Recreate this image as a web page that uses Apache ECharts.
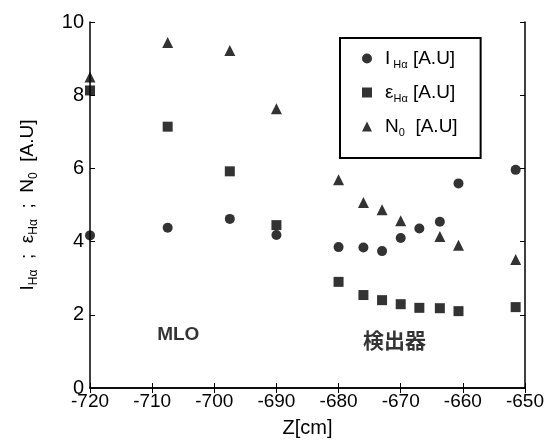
<!DOCTYPE html>
<html>
<head>
<meta charset="utf-8">
<script src="https://cdn.jsdelivr.net/npm/echarts@6/dist/echarts.min.js"></script>
<style>
  html, body { margin: 0; padding: 0; background: #fff; }
  #chart { width: 547px; height: 446px; }
</style>
</head>
<body>
<div id="chart"></div>
<script>
// Z positions [cm] and measured quantities [A.U]
const intensityZ = [-720, -707.5, -697.5, -690, -680, -676, -673, -670, -667, -663.7, -660.7, -651.5];
const intensityV = [4.17, 4.38, 4.62, 4.18, 3.85, 3.84, 3.74, 4.10, 4.36, 4.54, 5.59, 5.96];

const emissivityZ = [-720, -707.5, -697.5, -690, -680, -676, -673, -670, -667, -663.7, -660.7, -651.5];
const emissivityV = [8.13, 7.14, 5.92, 4.45, 2.90, 2.54, 2.40, 2.29, 2.19, 2.18, 2.10, 2.21];

const densityZ = [-720, -707.5, -697.5, -690, -680, -676, -673, -670, -663.7, -660.7, -651.5];
const densityV = [8.50, 9.44, 9.22, 7.63, 5.69, 5.07, 4.87, 4.57, 4.14, 3.90, 3.51];

const xTicks = [-720, -710, -700, -690, -680, -670, -660, -650];
const yTicks = [0, 2, 4, 6, 8, 10];

// Region labels placed in data coordinates
const regionNames = ['MLO', '検出器'];
const regionZ = [-705.8, -671];
const regionV = [1.45, 1.25];

const seriesNames = ['I', 'ε', 'N'];

const pairs = (xs, ys) => xs.map((x, i) => [x, ys[i]]);

const font = 'Liberation Sans, Arial, sans-serif';
const ink = '#000';

const chart = echarts.init(document.getElementById('chart'));

const axisCommon = {
  axisLine: { show: true, lineStyle: { color: ink, width: 1.5 } },
  axisTick: { show: true, inside: true, length: 5, lineStyle: { color: ink, width: 1 } },
  splitLine: { show: false }
};

const nameRich = {
  s: { fontFamily: font, fontSize: 12, color: ink, verticalAlign: 'bottom', padding: [12, 0, 0, 0] }
};
const legendRich = {
  s: { fontFamily: font, fontSize: 11, color: ink, verticalAlign: 'bottom', padding: [12, 0, 0, 0] }
};

const legendText = {
  'I': 'I{s| Hα} [A.U]',
  'ε': 'ε{s|Hα} [A.U]',
  'N': 'N{s|0}  [A.U]'
};

chart.setOption({
  animation: false,
  backgroundColor: '#fff',
  grid: { left: 90, right: 22, top: 22, bottom: 58 },
  xAxis: [
    Object.assign({}, axisCommon, {
      type: 'value', min: xTicks[0], max: xTicks[xTicks.length - 1], interval: 10,
      position: 'bottom',
      name: 'Z[cm]', nameLocation: 'middle', nameGap: 30,
      nameTextStyle: { fontFamily: font, fontSize: 20, color: ink },
      axisLabel: { fontFamily: font, fontSize: 19, color: ink, margin: 4 }
    }),
    Object.assign({}, axisCommon, {
      type: 'value', min: xTicks[0], max: xTicks[xTicks.length - 1], interval: 10,
      position: 'top', axisLabel: { show: false }
    })
  ],
  yAxis: [
    Object.assign({}, axisCommon, {
      type: 'value', min: yTicks[0], max: yTicks[yTicks.length - 1], interval: 2,
      position: 'left',
      name: 'I{s|Hα}  ;  ε{s|Hα}  ;  N{s|0}  [A.U]',
      nameLocation: 'middle', nameGap: 50, nameRotate: 90,
      nameTextStyle: { fontFamily: font, fontSize: 19, color: ink, rich: nameRich },
      axisLabel: { fontFamily: font, fontSize: 20, color: ink, margin: 6 }
    }),
    Object.assign({}, axisCommon, {
      type: 'value', min: yTicks[0], max: yTicks[yTicks.length - 1], interval: 2,
      position: 'right', axisLabel: { show: false }
    })
  ],
  legend: {
    orient: 'vertical',
    left: 340, top: 38,
    padding: [11, 23, 20, 22],
    itemGap: 13,
    itemWidth: 10, itemHeight: 10,
    borderColor: ink, borderWidth: 2,
    backgroundColor: '#fff',
    data: [
      { name: 'I', icon: 'circle' },
      { name: 'ε', icon: 'rect' },
      { name: 'N', icon: 'triangle' }
    ],
    formatter: n => legendText[n],
    textStyle: { fontFamily: font, fontSize: 19, color: ink, padding: [0, 0, 0, 8], rich: legendRich }
  },
  series: [
    {
      name: seriesNames[0], type: 'scatter', symbol: 'circle', symbolSize: 10,
      itemStyle: { color: ink }, data: pairs(intensityZ, intensityV)
    },
    {
      name: seriesNames[1], type: 'scatter', symbol: 'rect', symbolSize: 10,
      itemStyle: { color: ink }, data: pairs(emissivityZ, emissivityV)
    },
    {
      name: seriesNames[2], type: 'scatter', symbol: 'triangle', symbolSize: 11,
      itemStyle: { color: ink }, data: pairs(densityZ, densityV)
    },
    {
      name: 'regions', type: 'scatter', symbolSize: 0, silent: true,
      data: regionNames.map((t, i) => ({
        value: [regionZ[i], regionV[i]],
        label: { formatter: t, fontSize: i === 0 ? 19 : 21 }
      })),
      label: {
        show: true, position: 'inside', color: ink, fontWeight: 'bold',
        fontFamily: 'Liberation Sans, Noto Sans CJK JP, sans-serif'
      }
    }
  ]
});
</script>
</body>
</html>
